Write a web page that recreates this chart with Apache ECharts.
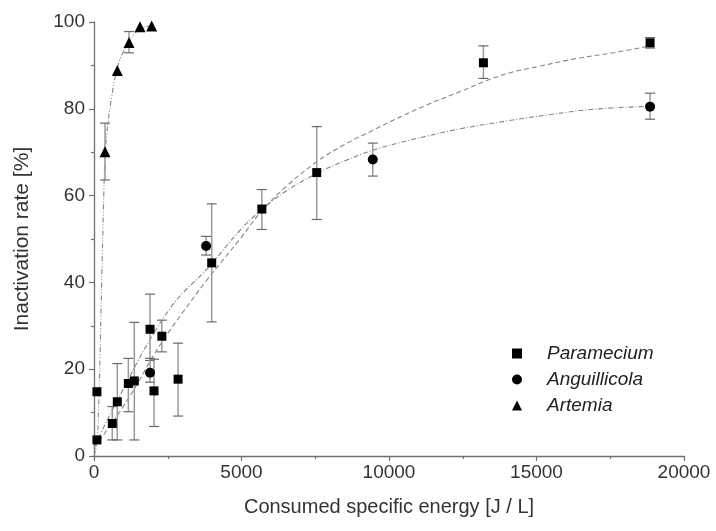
<!DOCTYPE html>
<html>
<head>
<meta charset="utf-8">
<script src="https://cdn.jsdelivr.net/npm/echarts@6/dist/echarts.min.js"></script>
<style>html,body{margin:0;padding:0;background:#fff}#c{width:716px;height:531px}</style>
</head>
<body>
<div id="c"></div>
<script>
// ---- Data ----
const seriesNames = ['Paramecium', 'Anguillicola', 'Artemia'];

const paraX    = [100, 100, 620, 790, 1165, 1367, 1900, 2034, 2300, 2850, 3990, 5690, 7550, 13200, 18850];
const paraY    = [14.8, 3.7, 7.5, 12.5, 16.7, 17.3, 29.2, 15.0, 27.6, 17.7, 44.5, 56.9, 65.3, 90.6, 95.2];
const paraHigh = [null, null, 11.4, 21.3, 22.5, 30.8, 37.3, 22.3, 31.3, 26.0, 58.1, 61.4, 75.9, 94.5, 96.4];
const paraLow  = [null, null, 3.7, 3.7, 10.2, 3.7, 22.0, 6.8, 24.0, 9.2, 30.9, 52.2, 54.5, 87.0, 94.0];

const angX    = [1900, 3800, 9450, 18850];
const angY    = [19.2, 48.4, 68.3, 80.5];
const angHigh = [22.5, 50.6, 72.1, 83.6];
const angLow  = [17.0, 46.3, 64.5, 77.6];

const artX    = [373, 790, 1186, 1560, 1955];
const artY    = [70.1, 88.8, 95.3, 98.9, 99.1];
const artHigh = [76.7, null, 97.8, null, null];
const artLow  = [63.6, null, 92.9, null, null];

// fitted curves
const paraFitX = [0, 500, 1000, 1500, 2000, 2576, 3000, 3820, 4949, 5690, 6500, 7548, 8500, 9468, 10500, 11277, 12500, 13312, 14100, 15100, 16360, 17600, 18850];
const paraFitY = [2, 6.5, 11.5, 17, 23, 29, 33, 40.5, 50, 56.5, 62, 67.8, 71.8, 75.1, 78.5, 80.9, 84.2, 86.5, 88.3, 89.8, 91.6, 92.9, 94.5];

const angFitX = [0, 500, 1000, 1500, 2000, 2576, 3000, 3820, 4949, 5690, 6500, 7548, 8500, 9468, 10373, 11277, 12500, 14000, 15500, 16927, 18850];
const angFitY = [2, 9, 15.5, 22, 28, 34, 37.5, 43, 52, 56.8, 61, 65.1, 68, 70.5, 72.2, 73.7, 75.5, 77.2, 78.7, 79.9, 80.6];

const artFitX = [0, 100, 150, 200, 260, 320, 373, 430, 486, 600, 768, 950, 1186, 1400, 1560, 1955];
const artFitY = [0, 3, 10, 22, 40, 57, 69, 74, 77.4, 82.8, 88.8, 92.5, 95.3, 97.5, 98.4, 99.2];

const xTicks = [0, 5000, 10000, 15000, 20000];
const yTicks = [0, 20, 40, 60, 80, 100];

// ---- Build ----
const zip = (a, b) => a.map((v, i) => [v, b[i]]);
const errData = (x, lo, hi) => x.map((v, i) => [v, lo[i], hi[i]]).filter(d => d[1] != null);

function errorRender(params, api) {
  const x = api.value(0), lo = api.value(1), hi = api.value(2);
  const pLo = api.coord([x, lo]), pHi = api.coord([x, hi]);
  const w = 5;
  return {
    type: 'group',
    children: [
      { type: 'line', shape: { x1: pLo[0], y1: pLo[1], x2: pHi[0], y2: pHi[1] }, style: { stroke: '#9a9a9a', lineWidth: 1.5 } },
      { type: 'line', shape: { x1: pLo[0] - w, y1: pLo[1], x2: pLo[0] + w, y2: pLo[1] }, style: { stroke: '#6a6a6a', lineWidth: 1.2 } },
      { type: 'line', shape: { x1: pHi[0] - w, y1: pHi[1], x2: pHi[0] + w, y2: pHi[1] }, style: { stroke: '#6a6a6a', lineWidth: 1.2 } }
    ]
  };
}

const fitLine = (data, dash) => ({
  type: 'line', data, smooth: 0.4, symbol: 'none', silent: true, z: 1,
  lineStyle: { color: '#858585', width: 1.1, type: dash }
});

const font = 'Liberation Sans, Arial, sans-serif';
const txt = '#333';

const chart = echarts.init(document.getElementById('c'), null, { renderer: 'canvas' });
chart.setOption({
  animation: false,
  backgroundColor: '#fff',
  grid: { left: 94, right: 32, top: 22, bottom: 75 },
  legend: {
    orient: 'vertical', left: 507, top: 339, itemGap: 7,
    itemWidth: 10, itemHeight: 10,
    data: [
      { name: seriesNames[0], icon: 'rect' },
      { name: seriesNames[1], icon: 'circle' },
      { name: seriesNames[2], icon: 'triangle' }
    ],
    textStyle: { fontFamily: font, fontSize: 19, fontStyle: 'italic', color: '#222', padding: [0, 0, 0, 20] }
  },
  xAxis: {
    type: 'value', min: 0, max: 20000, interval: 5000,
    name: 'Consumed specific energy [J / L]', nameLocation: 'middle', nameGap: 41,
    nameTextStyle: { fontFamily: font, fontSize: 20, color: txt },
    axisLine: { onZero: false, lineStyle: { color: '#707070', width: 1.3 } },
    axisTick: { show: true, length: 5, lineStyle: { color: '#707070', width: 1.2 } },
    minorTick: { show: true, splitNumber: 2, length: 3, lineStyle: { color: '#707070', width: 1.2 } },
    splitLine: { show: false },
    axisLabel: { fontFamily: font, fontSize: 19, color: txt, margin: 7,
      formatter: v => xTicks.includes(v) ? String(v) : '' }
  },
  yAxis: {
    type: 'value', min: 0, max: 100, interval: 20,
    name: 'Inactivation rate [%]', nameLocation: 'middle', nameGap: 61,
    nameTextStyle: { fontFamily: font, fontSize: 21, color: txt },
    axisLine: { show: true, onZero: false, lineStyle: { color: '#707070', width: 1.3 } },
    axisTick: { show: true, length: 5, lineStyle: { color: '#707070', width: 1.2 } },
    minorTick: { show: true, splitNumber: 2, length: 3, lineStyle: { color: '#707070', width: 1.2 } },
    splitLine: { show: false },
    axisLabel: { fontFamily: font, fontSize: 19, color: txt, margin: 9,
      formatter: v => yTicks.includes(v) ? String(v) : '' }
  },
  series: [
    fitLine(zip(paraFitX, paraFitY), [5, 3]),
    fitLine(zip(angFitX, angFitY), [5, 2, 1, 2]),
    fitLine(zip(artFitX, artFitY), [5, 2, 1, 2, 1, 2]),
    { type: 'custom', renderItem: errorRender, data: errData(paraX, paraLow, paraHigh), z: 2, silent: true },
    { type: 'custom', renderItem: errorRender, data: errData(angX, angLow, angHigh), z: 2, silent: true },
    { type: 'custom', renderItem: errorRender, data: errData(artX, artLow, artHigh), z: 2, silent: true },
    { name: seriesNames[0], type: 'scatter', symbol: 'rect', symbolSize: 9, data: zip(paraX, paraY), itemStyle: { color: '#000', opacity: 1 }, z: 3 },
    { name: seriesNames[1], type: 'scatter', symbol: 'circle', symbolSize: 10, data: zip(angX, angY), itemStyle: { color: '#000', opacity: 1 }, z: 3 },
    { name: seriesNames[2], type: 'scatter', symbol: 'triangle', symbolSize: 11, data: zip(artX, artY), itemStyle: { color: '#000', opacity: 1 }, z: 3 }
  ]
});
</script>
</body>
</html>
